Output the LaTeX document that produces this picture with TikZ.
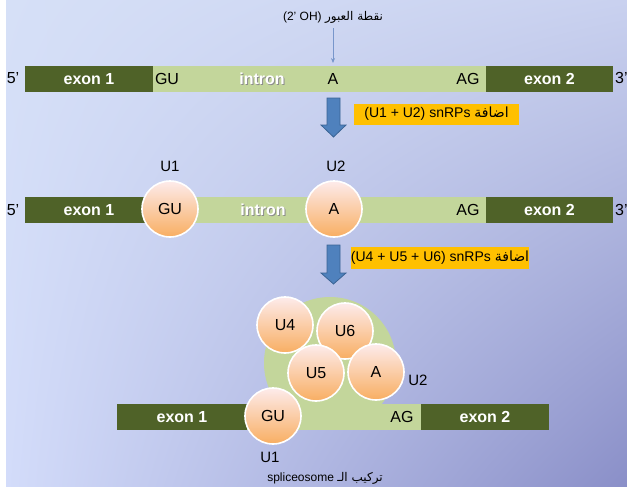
\documentclass[tikz,border=0pt]{standalone}
\usepackage{fontspec}
\setmainfont{Liberation Sans}
\newfontfamily\arabicfont[Script=Arabic]{DejaVu Sans}
\TeXXeTstate=1
\usetikzlibrary{arrows.meta,shadings}
\definecolor{bgTL}{HTML}{D6E0F7}
\definecolor{bgTR}{HTML}{C9D1EF}
\definecolor{bgBL}{HTML}{D3DCFA}
\definecolor{bgBR}{HTML}{8A8FC8}
\definecolor{exdark}{HTML}{4F6228}
\definecolor{inlight}{HTML}{C3D69B}
\definecolor{arrblue}{HTML}{4F81BD}
\definecolor{arredge}{HTML}{3A6394}
\definecolor{thinblue}{HTML}{7896CB}
\definecolor{boxyel}{HTML}{FFC000}
\definecolor{cirtop}{HTML}{FDEBEB}
\definecolor{cirbot}{HTML}{F8AE62}
\tikzset{
  exonbar/.style={rectangle, fill=exdark, inner sep=0pt, minimum height=26pt, text=white, font=\fontsize{16}{18}\selectfont\bfseries},
  intronbar/.style={rectangle, fill=inlight, inner sep=0pt, minimum height=26pt},
  lbl/.style={inner sep=0pt, font=\fontsize{16}{18}\selectfont},
  introntxt/.style={inner sep=0pt, text=white, font=\fontsize{16}{18}\selectfont\bfseries},
  shadowtxt/.style={inner sep=0pt, text=black!45, font=\fontsize{16}{18}\selectfont\bfseries},
  snrp/.style={circle, minimum size=56pt, inner sep=0pt, draw=white, line width=1.6pt, top color=cirtop, bottom color=cirbot, font=\fontsize{16}{18}\selectfont},
  ulbl/.style={inner sep=0pt, font=\fontsize{15}{17}\selectfont},
  yelbox/.style={rectangle, fill=boxyel, inner sep=0pt, font=\fontsize{14}{16}\selectfont},
  bigarrow/.style={fill=arrblue, draw=arredge, line width=0.8pt},
}
\begin{document}
\begin{tikzpicture}[x=1pt,y=-1pt]
\useasboundingbox (0,0) rectangle (627,488);
\fill[white] (0,0) rectangle (627,488);
\shade[upper left=bgTL, upper right=bgTR, lower left=bgBL, lower right=bgBR] (6,0) rectangle (627,486);

% top label and thin arrow
\node[inner sep=0pt, font=\fontsize{12}{14}\selectfont] (oh) at (333,17) {(2' OH) {\arabicfont\beginR نقطة العبور\endR}};
\coordinate (ohtip) at (333,63);
\draw[thinblue, line width=0.7pt, -{Stealth[length=5pt,width=4pt]}] (oh.south) ++(0,5) -- (ohtip);

% row 1
\node[exonbar, minimum width=128pt] (r1e1) at (89,79) {exon 1};
\node[intronbar, minimum width=333pt] (r1in) at (319.5,79) {};
\node[exonbar, minimum width=127pt] (r1e2) at (549.5,79) {exon 2};
\node[lbl] (r1five) at (13,78) {5'};
\node[lbl, anchor=west] (r1three) at (615,78) {3'};
\node[lbl] (r1gu) at (167,79) {GU};
\node[shadowtxt] (r1ins) at (263,80) {intron};
\node[introntxt] (r1intron) at (262,79) {intron};
\node[lbl] (r1a) at (333,79) {A};
\node[lbl] (r1ag) at (468,79) {AG};

% arrow 1 and box 1
\draw[bigarrow] (327,98) -- (340,98) -- (340,125) -- (346,125) -- (333.5,137) -- (321,125) -- (327,125) -- cycle;
\node[yelbox, minimum width=165pt, minimum height=21pt] (box1) at (436.5,114) {(U1 + U2) snRPs {\arabicfont\beginR اضافة\endR}};

% row 2
\node[exonbar, minimum width=128pt] (r2e1) at (89,210) {exon 1};
\node[intronbar, minimum width=333pt] (r2in) at (319.5,210) {};
\node[exonbar, minimum width=127pt] (r2e2) at (549.5,210) {exon 2};
\node[lbl] (r2five) at (13,210) {5'};
\node[lbl, anchor=west] (r2three) at (615,210) {3'};
\node[shadowtxt] (r2ins) at (264,211) {intron};
\node[introntxt] (r2intron) at (263,210) {intron};
\node[lbl] (r2ag) at (468,210) {AG};
\node[snrp] (r2gu) at (170,209) {GU};
\node[snrp] (r2a) at (334,209) {A};
\node[ulbl] (r2u1) at (170,166) {U1};
\node[ulbl] (r2u2) at (336,166) {U2};

% arrow 2 and box 2
\draw[bigarrow] (327,245) -- (340,245) -- (340,273) -- (346,273) -- (333.5,284) -- (321,273) -- (327,273) -- cycle;
\node[yelbox, minimum width=174pt, minimum height=22pt] (box2) at (440,258) {(U4 + U5 + U6) snRPs {\arabicfont\beginR اضافة\endR}};

% spliceosome
\node[circle, fill=inlight, minimum size=132pt, inner sep=0pt] (green) at (330,363) {};
\node[exonbar, minimum width=130pt] (r3e1) at (182,417) {exon 1};
\node[intronbar, minimum width=174pt] (r3in) at (334,417) {};
\node[exonbar, minimum width=128pt] (r3e2) at (485,417) {exon 2};
\node[lbl] (r3ag) at (402,417) {AG};
\node[snrp] (u4) at (285,325) {U4};
\node[snrp] (u6) at (345,331) {U6};
\node[snrp] (u5) at (316,373) {U5};
\node[snrp] (r3a) at (376,372) {A};
\node[ulbl] (r3u2) at (418,380) {U2};
\node[snrp] (r3gu) at (273,416) {GU};
\node[ulbl] (r3u1) at (270,457) {U1};
\node[inner sep=0pt, font=\fontsize{12}{14}\selectfont] (title) at (325,478) {spliceosome {\arabicfont\beginR تركيب الـ\endR}};
\end{tikzpicture}
\end{document}
